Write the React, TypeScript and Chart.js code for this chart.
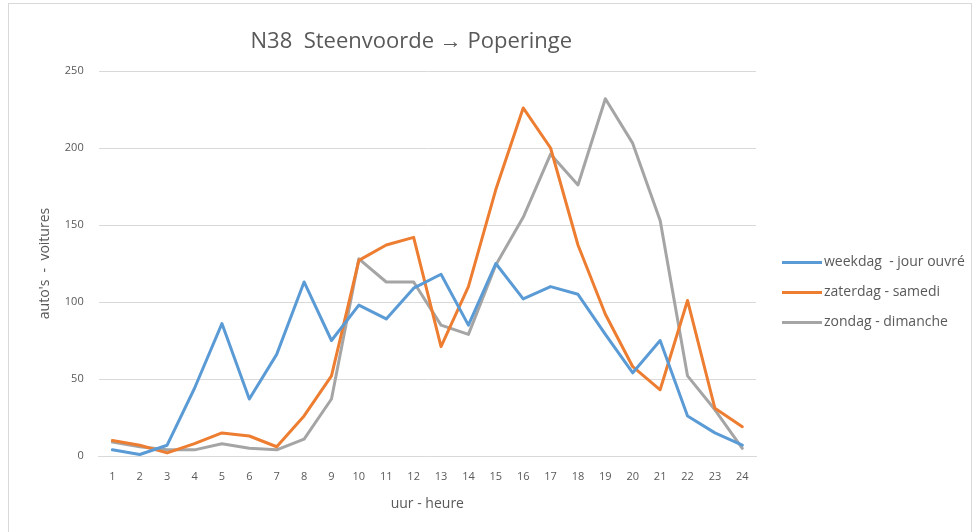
import React, { useEffect, useRef } from "react";
import { Chart, registerables } from "chart.js";

Chart.register(...registerables);

const hours = ["1","2","3","4","5","6","7","8","9","10","11","12","13","14","15","16","17","18","19","20","21","22","23","24"];
const weekdag = [4, 1, 7, 44, 86, 37, 66, 113, 75, 98, 89, 109, 118, 85, 125, 102, 110, 105, 79, 54, 75, 26, 15, 7];
const zaterdag = [10, 7, 2, 8, 15, 13, 6, 26, 52, 127, 137, 142, 71, 110, 173, 226, 200, 137, 92, 58, 43, 101, 31, 19];
const zondag = [9, 6, 4, 4, 8, 5, 4, 11, 37, 128, 113, 113, 85, 79, 124, 155, 196, 176, 232, 203, 153, 52, 30, 5];
const seriesNames = ["weekdag  - jour ouvré", "zaterdag - samedi", "zondag - dimanche"];
const yTicks = [0, 50, 100, 150, 200, 250];

const FONT = "'Open Sans', sans-serif";
const TEXT = "#595959";

const titlePlugin = {
  id: "offsetTitle",
  afterDraw(chart: any) {
    const { ctx, chartArea } = chart;
    ctx.save();
    ctx.font = `22px ${FONT}`;
    ctx.fillStyle = TEXT;
    ctx.textAlign = "center";
    ctx.textBaseline = "middle";
    ctx.fillText("N38  Steenvoorde \u2192 Poperinge", (chartArea.left + chartArea.right) / 2 - 16, 38);
    ctx.restore();
  },
};

const legendPlugin = {
  id: "sideLegend",
  afterDraw(chart: any) {
    const { ctx, chartArea } = chart;
    const x0 = chartArea.right + 26;
    const yMid = (chartArea.top + chartArea.bottom) / 2 + 29;
    ctx.save();
    ctx.font = `14px ${FONT}`;
    ctx.textBaseline = "middle";
    ctx.textAlign = "left";
    chart.data.datasets.forEach((ds: any, i: number) => {
      const y = yMid + (i - 1) * 30;
      ctx.strokeStyle = ds.borderColor;
      ctx.lineWidth = 3;
      ctx.lineCap = "butt";
      ctx.beginPath();
      ctx.moveTo(x0, y);
      ctx.lineTo(x0 + 40, y);
      ctx.stroke();
      ctx.fillStyle = TEXT;
      ctx.fillText(ds.label, x0 + 42, y);
    });
    ctx.restore();
  },
};

export default function App() {
  const ref = useRef<HTMLCanvasElement | null>(null);
  useEffect(() => {
    const canvas = ref.current;
    if (!canvas) return;
    const colors = ["#5B9BD5", "#ED7D31", "#A5A5A5"];
    const data = [weekdag, zaterdag, zondag];
    const chart = new Chart(canvas, {
      type: "line",
      data: {
        labels: hours,
        datasets: data.map((d, i) => ({
          label: seriesNames[i],
          data: d,
          borderColor: colors[i],
          backgroundColor: colors[i],
          borderWidth: 3,
          borderJoinStyle: "round",
          borderCapStyle: "round",
          pointRadius: 0,
          tension: 0,
          fill: false,
        })),
      },
      plugins: [titlePlugin, legendPlugin],
      options: {
        responsive: false,
        animation: false,
        maintainAspectRatio: false,
        layout: { padding: { top: 67, left: 17, right: 215, bottom: 16 } },
        plugins: {
          title: { display: false },
          tooltip: { enabled: false },
          legend: { display: false },
        },
        scales: {
          x: {
            offset: true,
            grid: { display: false },
            border: { display: true, color: "#d9d9d9", width: 1 },
            ticks: { color: TEXT, font: { family: FONT, size: 11 }, padding: 6, maxRotation: 0, autoSkip: false },
            title: { display: true, text: "uur - heure", color: TEXT, font: { family: FONT, size: 14 }, padding: { top: 6, bottom: 4 } },
          },
          y: {
            min: 0,
            max: 250,
            afterBuildTicks: (axis: any) => {
              axis.ticks = yTicks.map((v) => ({ value: v }));
            },
            grid: { color: "#d9d9d9", lineWidth: 1, drawTicks: false },
            border: { display: false },
            ticks: { color: TEXT, font: { family: FONT, size: 11 }, padding: 15 },
            title: { display: true, text: "auto's  -  voitures", color: TEXT, font: { family: FONT, size: 14 }, padding: { top: 11, bottom: -4 } },
          },
        },
      },
    });
    return () => chart.destroy();
  }, []);
  return (
    <div
      style={{
        position: "fixed",
        left: 8,
        top: 3,
        width: 964,
        height: 560,
        border: "1px solid #d9d9d9",
        boxSizing: "border-box",
        background: "#fff",
      }}
    >
      <canvas ref={ref} width={962} height={528} style={{ display: "block" }} />
    </div>
  );
}
